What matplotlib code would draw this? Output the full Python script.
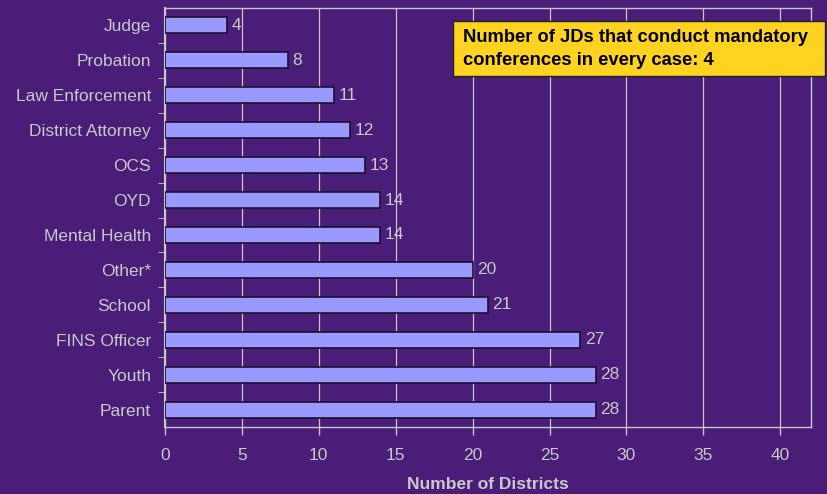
import matplotlib
matplotlib.use("Agg")
import matplotlib.pyplot as plt
from matplotlib.patches import Rectangle

categories = ["Judge", "Probation", "Law Enforcement", "District Attorney", "OCS", "OYD",
              "Mental Health", "Other*", "School", "FINS Officer", "Youth", "Parent"]
districts = [4, 8, 11, 12, 13, 14, 14, 20, 21, 27, 28, 28]
x_ticks = [0, 5, 10, 15, 20, 25, 30, 35, 40]

bg = "#4a1d78"
grey = "#c8c8c8"

plt.rcParams["font.family"] = ["Liberation Sans", "DejaVu Sans"]

fig = plt.figure(figsize=(8.28, 4.94), dpi=100, facecolor=bg)
ax = fig.add_axes([165 / 828, 1 - 427 / 494, 646 / 828, 419 / 494])
ax.set_facecolor(bg)

pos = list(range(len(categories)))
ax.barh(pos, districts, height=0.46, color="#9999ff", edgecolor="#1a1030", linewidth=1.2, zorder=3)
for p, v in zip(pos, districts):
    ax.text(v + 0.3, p, str(v), va="center", ha="left", color=grey, fontsize=12.5, zorder=4)

ax.set_ylim(len(categories) - 0.5, -0.5)
ax.set_xlim(0, 42)
ax.set_yticks(pos)
ax.set_yticklabels(categories, color=grey, fontsize=12.5)
ax.set_yticks([p + 0.5 for p in pos[:-1]], minor=True)
ax.tick_params(axis="y", which="major", length=0, pad=10)
ax.tick_params(axis="y", which="minor", length=5, color=grey, direction="out")
ax.set_xticks(x_ticks)
ax.set_xticklabels([str(t) for t in x_ticks], color=grey, fontsize=12.5)
ax.tick_params(axis="x", length=6, color=grey, width=1, pad=9)

ax.grid(axis="x", color=grey, linewidth=0.9, zorder=0)
for s in ax.spines.values():
    s.set_color(grey)
    s.set_linewidth(1)
ax.spines["left"].set_linewidth(1.5)

ax.set_xlabel("Number of Districts", color=grey, fontsize=12.5, fontweight="bold", labelpad=10)

# note box
fig.patches.append(Rectangle((453 / 828, 1 - 76 / 494), 372 / 828, 55 / 494,
                             transform=fig.transFigure, facecolor="#ffd320",
                             edgecolor="#222222", linewidth=1, zorder=6))
fig.text(463 / 828, 1 - 49 / 494, "Number of JDs that conduct mandatory\nconferences in every case: 4",
         ha="left", va="center", fontsize=13.2, fontweight="bold", color="black",
         linespacing=1.4, zorder=7)

fig.savefig("out.png", dpi=100, facecolor=bg)
